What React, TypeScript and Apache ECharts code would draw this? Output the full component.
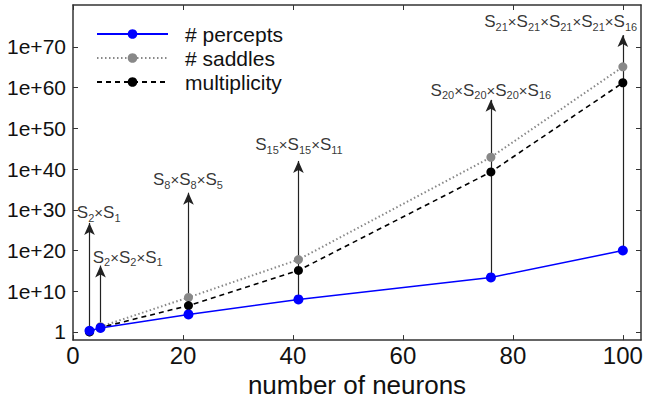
import React, { useEffect, useRef } from 'react';
import * as echarts from 'echarts';

// ---- data ----
const neurons = [3, 5, 21, 41, 76, 100];
const percepts = [2, 10, 2e4, 1e8, 2.5e13, 1e20];
const saddles = [1, 20, 3e8, 6e17, 8e42, 1.3e65];
const multiplicity = [1, 12, 3e6, 1.3e15, 2e39, 1.6e61];

const xTickValues = [0, 20, 40, 60, 80, 100];
const yTickExponents = [0, 10, 20, 30, 40, 50, 60, 70];

// annotations: arrows from the percept point up to a group label
const arrowNeurons = [3, 5, 21, 41, 76, 100];
const arrowTips = [6e26, 2e16, 1.6e34, 1e42, 1e57, 8e72];
const groupSubscripts = [
  [2, 1],
  [2, 2, 1],
  [8, 8, 5],
  [15, 15, 11],
  [20, 20, 20, 16],
  [21, 21, 21, 21, 16],
];
const labelAnchorX = [0.7, 3.6, 20.9, 41.1, 76, 102.6];
const labelAnchorY = [2e29, 2e18, 2.5e37, 1e46, 2.5e59, 1.6e76];
const labelAlign = ['left', 'left', 'center', 'center', 'center', 'right'];

const FONT = '"Liberation Sans", Arial, Helvetica, sans-serif';
const lg = (v: number) => Math.log10(v);

function groupText(subs: number[]) {
  return subs.map((s) => `{m|S}{s|${s}}`).join('{x|×}');
}

export default function App() {
  const ref = useRef<HTMLDivElement>(null);
  useEffect(() => {
    if (!ref.current) return;
    const chart = echarts.init(ref.current, undefined, { renderer: 'svg' });
    const axisLine = { show: true, onZero: false, lineStyle: { color: '#333', width: 1.5 } };
    const xMin = 0;
    const xMax = 103.3;
    const yMin = -2;
    const yMax = 80.3;
    const option: any = {
      animation: false,
      grid: { left: 73, right: 6, top: 5, bottom: 62 },
      legend: {
        left: 96,
        top: 23,
        orient: 'vertical',
        padding: 0,
        itemWidth: 71,
        itemHeight: 12,
        itemGap: 2,
        data: ['# percepts', '# saddles', 'multiplicity'],
        textStyle: { fontSize: 21, lineHeight: 22, fontFamily: FONT, color: '#111', padding: [0, 0, 0, 12] },
        selectedMode: false,
      },
      xAxis: [
        {
          type: 'value',
          min: xMin,
          max: xMax,
          position: 'bottom',
          name: 'number of neurons',
          nameLocation: 'middle',
          nameGap: 24,
          nameTextStyle: { fontSize: 26, fontFamily: FONT, color: '#111' },
          axisLine,
          axisTick: { show: true, inside: true, length: 5, customValues: xTickValues, lineStyle: { color: '#333' } },
          axisLabel: { customValues: xTickValues, fontSize: 24, margin: 3, color: '#111', fontFamily: FONT },
          splitLine: { show: false },
        },
        {
          type: 'value',
          min: xMin,
          max: xMax,
          position: 'top',
          axisLine,
          axisTick: { show: true, inside: true, length: 5, customValues: xTickValues, lineStyle: { color: '#333' } },
          axisLabel: { show: false },
          splitLine: { show: false },
        },
      ],
      yAxis: [
        {
          type: 'value',
          min: yMin,
          max: yMax,
          position: 'left',
          axisLine,
          axisTick: { show: true, inside: true, length: 5, customValues: yTickExponents, lineStyle: { color: '#333' } },
          axisLabel: {
            customValues: yTickExponents,
            fontSize: 21,
            margin: 7,
            color: '#111',
            fontFamily: FONT,
            formatter: (v: number) => (v === 0 ? '1' : '1e+' + v),
          },
          splitLine: { show: false },
        },
        {
          type: 'value',
          min: yMin,
          max: yMax,
          position: 'right',
          axisLine,
          axisTick: { show: true, inside: true, length: 5, customValues: yTickExponents, lineStyle: { color: '#333' } },
          axisLabel: { show: false },
          splitLine: { show: false },
        },
      ],
      series: [
        {
          name: 'arrows',
          type: 'line',
          data: [],
          z: 1,
          markLine: {
            silent: true,
            z: 1,
            symbol: ['none', 'arrow'],
            symbolSize: [8, 12],
            label: { show: false },
            emphasis: { disabled: true },
            lineStyle: { color: '#222', width: 1.2, type: 'solid' },
            data: arrowNeurons.map((n, i) => [
              { coord: [n, lg(percepts[i])] },
              { coord: [n, lg(arrowTips[i])] },
            ]),
          },
        },
        {
          name: '# saddles',
          type: 'line',
          z: 3,
          data: neurons.map((n, i) => [n, lg(saddles[i])]),
          symbol: 'circle',
          symbolSize: 9,
          itemStyle: { color: '#888888' },
          lineStyle: { color: '#888888', width: 2, type: [1.5, 2.5] },
        },
        {
          name: 'multiplicity',
          type: 'line',
          z: 4,
          data: neurons.map((n, i) => [n, lg(multiplicity[i])]),
          symbol: 'circle',
          symbolSize: 9,
          itemStyle: { color: '#000000' },
          lineStyle: { color: '#000000', width: 1.6, type: [5, 4] },
        },
        {
          name: '# percepts',
          type: 'line',
          z: 5,
          data: neurons.map((n, i) => [n, lg(percepts[i])]),
          symbol: 'circle',
          symbolSize: 10,
          itemStyle: { color: '#0000ff' },
          lineStyle: { color: '#0000ff', width: 1.5 },
        },
        {
          name: 'group labels',
          type: 'scatter',
          z: 6,
          symbolSize: 0,
          silent: true,
          data: labelAnchorX.map((x, i) => ({
            value: [x, lg(labelAnchorY[i])],
            label: { align: labelAlign[i], formatter: groupText(groupSubscripts[i]) },
          })),
          label: {
            show: true,
            position: 'inside',
            verticalAlign: 'middle',
            color: '#000',
            rich: {
              m: { fontSize: 17, fontFamily: FONT, color: '#000' },
              s: { fontSize: 11, fontFamily: FONT, color: '#000', padding: [10, 0, 0, 0] },
              x: { fontSize: 15, fontFamily: FONT, color: '#000' },
            },
          },
        },
      ],
    };
    chart.setOption(option);
    return () => chart.dispose();
  }, []);
  return <div ref={ref} style={{ width: 647, height: 403, position: 'absolute', left: 0, top: 0 }} />;
}
